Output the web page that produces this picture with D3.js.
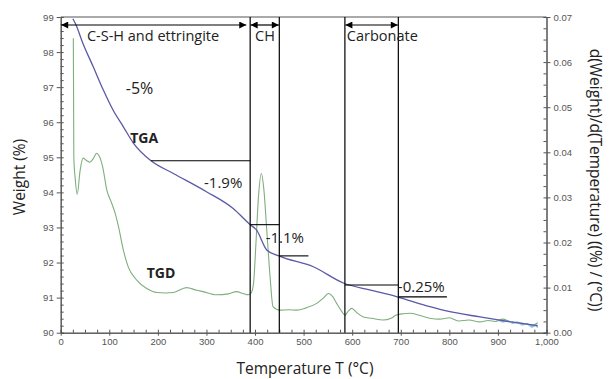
<!DOCTYPE html>
<html>
<head>
<meta charset="utf-8">
<script src="https://cdn.jsdelivr.net/npm/d3@7"></script>
<style>
  body { margin: 0; background: #fff; }
  svg { display: block; }
  .tick text { font-family: "Liberation Sans", Arial, sans-serif; font-size: 9.5px; fill: #555; }
  .lbl { font-family: "Open Sans", sans-serif; fill: #222; }
</style>
</head>
<body>
<div id="graph"></div>
<script>
// TGA curve: temperature (°C) vs weight (%)
const tgaT = [25, 30, 46, 67, 88, 108, 129, 150, 186, 232, 300, 355, 390, 403, 424, 449, 520, 583, 636, 691, 760, 794, 863, 931, 982];
const tgaW = [98.95, 98.82, 98.24, 97.58, 96.91, 96.34, 95.87, 95.4, 94.9, 94.54, 94.02, 93.54, 93.08, 92.93, 92.36, 92.19, 91.88, 91.41, 91.22, 91.03, 90.74, 90.62, 90.45, 90.3, 90.2];

// noisy tail of the TGA trace (light blue)
const tailT = [900, 910, 920, 930, 940, 950, 960, 970, 978, 982];
const tailW = [90.36, 90.31, 90.34, 90.27, 90.3, 90.22, 90.26, 90.16, 90.22, 90.15];

// TGD curve: temperature (°C) vs d(Weight)/d(T)
const tgdT = [26, 27, 30, 34, 40, 46, 53, 60, 67, 74, 80, 86, 95, 105, 112, 119, 129, 139, 156, 177, 198, 215, 232, 259, 280, 293, 321, 345, 362, 375, 386, 392, 397, 402, 407, 413, 418, 424, 431, 437, 451, 470, 486, 505, 527, 540, 551, 560, 568, 578, 585, 592, 599, 610, 623, 640, 664, 680, 691, 705, 719, 740, 760, 780, 800, 820, 840, 863, 880, 895, 910, 925, 940, 955, 970, 982];
const tgdD = [0.0653, 0.039, 0.034, 0.0307, 0.036, 0.0387, 0.0382, 0.0378, 0.0386, 0.0398, 0.039, 0.037, 0.0316, 0.0287, 0.0265, 0.0235, 0.0183, 0.0146, 0.0117, 0.0098, 0.0089, 0.0088, 0.0089, 0.0100, 0.0094, 0.0091, 0.0084, 0.0086, 0.0091, 0.0087, 0.0084, 0.0088, 0.011, 0.020, 0.030, 0.0353, 0.032, 0.023, 0.0124, 0.0058, 0.005, 0.0051, 0.005, 0.0055, 0.0065, 0.0076, 0.0087, 0.008, 0.0065, 0.0048, 0.0039, 0.0048, 0.0054, 0.0044, 0.0035, 0.0032, 0.0028, 0.0032, 0.0039, 0.0042, 0.0043, 0.0038, 0.0032, 0.003, 0.0033, 0.0026, 0.0028, 0.0024, 0.0027, 0.0025, 0.003, 0.0024, 0.0022, 0.002, 0.0016, 0.0022];

// temperature boundaries of the regions
const bounds = [390, 450, 585, 695];
const regions = [
  { name: 'C-S-H and ettringite', from: 0, to: 383, labelT: 54 },
  { name: 'CH', from: 390, to: 450, labelT: 400 },
  { name: 'Carbonate', from: 585, to: 695, labelT: 589 }
];
// horizontal step lines: weight level, T start, T end
const steps = [
  [94.9, 186, 390],
  [93.08, 390, 450],
  [92.19, 450, 510],
  [91.36, 585, 695],
  [91.02, 695, 795]
];
// mass-loss labels
const losses = [
  { text: '-5%', t: 134, w: 96.97, size: 16 },
  { text: '-1.9%', t: 295, w: 94.27, size: 15 },
  { text: '-1.1%', t: 422, w: 92.7, size: 15 },
  { text: '-0.25%', t: 694, w: 91.3, size: 15 }
];

const width = 609, height = 379;
const margin = { top: 17, right: 62.5, bottom: 46.3, left: 60.7 };
const w = width - margin.left - margin.right;
const h = height - margin.top - margin.bottom;

const svg = d3.select('#graph').append('svg')
  .attr('width', width)
  .attr('height', height);

const root = svg.append('g')
  .attr('transform', 'translate(' + margin.left + ',' + margin.top + ')');

const x = d3.scaleLinear().domain([0, 1000]).range([0, w]);
const yL = d3.scaleLinear().domain([90, 99]).range([h, 0]);
const yR = d3.scaleLinear().domain([0, 0.07]).range([h, 0]);

const axisColor = '#555';

function styleAxis(g) {
  g.select('.domain').attr('stroke', axisColor);
  g.selectAll('.tick line').attr('stroke', axisColor);
}

// x axis
root.append('g').attr('transform', 'translate(0,' + h + ')')
  .call(d3.axisBottom(x).tickValues(d3.range(0, 1001, 25)).tickSize(-3).tickFormat(''))
  .call(styleAxis);
root.append('g').attr('transform', 'translate(0,' + h + ')')
  .call(d3.axisBottom(x).tickValues(d3.range(0, 1001, 100)).tickSizeInner(3).tickSizeOuter(0).tickPadding(3))
  .call(styleAxis);

// left axis
root.append('g')
  .call(d3.axisLeft(yL).tickValues(d3.range(90, 99.01, 0.2)).tickSize(-3).tickFormat(''))
  .call(styleAxis);
root.append('g')
  .call(d3.axisLeft(yL).tickValues(d3.range(90, 100, 1)).tickSizeInner(4).tickSizeOuter(0).tickPadding(3))
  .call(styleAxis);

// right axis
root.append('g').attr('transform', 'translate(' + w + ',0)')
  .call(d3.axisRight(yR).tickValues(d3.range(0, 0.0701, 0.0025)).tickSize(-3).tickFormat(''))
  .call(styleAxis);
root.append('g').attr('transform', 'translate(' + w + ',0)')
  .call(d3.axisRight(yR).tickValues(d3.range(0, 0.0701, 0.01)).tickSizeInner(4).tickSizeOuter(0).tickPadding(3).tickFormat(d3.format('.2f')))
  .call(styleAxis);

// top frame
root.append('line')
  .attr('x1', 0).attr('x2', w).attr('y1', 0).attr('y2', 0)
  .attr('stroke', axisColor);

// curves
const lineL = d3.line().x(d => x(d[0])).y(d => yL(d[1]));
const smoothL = d3.line().curve(d3.curveMonotoneX).x(d => x(d[0])).y(d => yL(d[1]));
const lineR = d3.line().curve(d3.curveMonotoneX).x(d => x(d[0])).y(d => yR(d[1]));

root.append('path')
  .datum(d3.zip(tgdT, tgdD))
  .attr('fill', 'none')
  .attr('stroke', '#7fae7f')
  .attr('stroke-width', 1.1)
  .attr('d', lineR);

root.append('path')
  .datum(d3.zip(tailT, tailW))
  .attr('fill', 'none')
  .attr('stroke', '#8fc0dc')
  .attr('stroke-width', 1.6)
  .attr('d', lineL);

root.append('path')
  .datum(d3.zip(tgaT, tgaW))
  .attr('fill', 'none')
  .attr('stroke', '#5a5aa6')
  .attr('stroke-width', 1.3)
  .attr('d', smoothL);

// region boundaries
root.selectAll('.bound')
  .data(bounds)
  .enter().append('line')
    .attr('x1', d => x(d)).attr('x2', d => x(d))
    .attr('y1', 0).attr('y2', h)
    .attr('stroke', '#000')
    .attr('stroke-width', 1.2);

// step lines
root.selectAll('.step')
  .data(steps)
  .enter().append('line')
    .attr('x1', d => x(d[1])).attr('x2', d => x(d[2]))
    .attr('y1', d => yL(d[0])).attr('y2', d => yL(d[0]))
    .attr('stroke', '#000')
    .attr('stroke-width', 1.1);

// arrows
const defs = svg.append('defs');
defs.append('marker')
  .attr('id', 'ah')
  .attr('viewBox', '0 0 10 10')
  .attr('refX', 10).attr('refY', 5)
  .attr('markerWidth', 8).attr('markerHeight', 7)
  .attr('markerUnits', 'userSpaceOnUse')
  .attr('orient', 'auto-start-reverse')
  .append('path').attr('d', 'M0,0L10,5L0,10z').attr('fill', '#000');

const arrowY = 8;
root.selectAll('.arrow')
  .data(regions)
  .enter().append('line')
    .attr('x1', d => x(d.from) + 0.5).attr('x2', d => x(d.to) - 0.5)
    .attr('y1', arrowY).attr('y2', arrowY)
    .attr('stroke', '#000')
    .attr('stroke-width', 1.2)
    .attr('marker-start', 'url(#ah)')
    .attr('marker-end', 'url(#ah)');

root.selectAll('.region')
  .data(regions)
  .enter().append('text')
    .attr('class', 'lbl')
    .attr('x', d => x(d.labelT))
    .attr('y', 24)
    .attr('font-size', 14.5)
    .text(d => d.name);

root.selectAll('.loss')
  .data(losses)
  .enter().append('text')
    .attr('class', 'lbl')
    .attr('x', d => x(d.t))
    .attr('y', d => yL(d.w))
    .attr('dy', '0.35em')
    .attr('font-size', d => d.size)
    .text(d => d.text);

root.append('text').attr('class', 'lbl')
  .attr('x', x(143)).attr('y', yL(95.55)).attr('dy', '0.35em')
  .attr('font-size', 14).attr('font-weight', 'bold')
  .text('TGA');
root.append('text').attr('class', 'lbl')
  .attr('x', x(177)).attr('y', yR(0.0133)).attr('dy', '0.35em')
  .attr('font-size', 14).attr('font-weight', 'bold')
  .text('TGD');

// axis titles
svg.append('text').attr('class', 'lbl')
  .attr('transform', 'translate(25,177) rotate(-90)')
  .attr('text-anchor', 'middle')
  .attr('font-size', 15.5)
  .attr('fill', '#333')
  .text('Weight (%)');

svg.append('text').attr('class', 'lbl')
  .attr('transform', 'translate(590,180) rotate(90)')
  .attr('text-anchor', 'middle')
  .attr('font-size', 15.5)
  .attr('fill', '#333')
  .text('d(Weight)/d(Temperature) ((%) / (°C))');

svg.append('text').attr('class', 'lbl')
  .attr('x', 305).attr('y', 374)
  .attr('text-anchor', 'middle')
  .attr('font-size', 15.5)
  .attr('fill', '#333')
  .text('Temperature T (°C)');
</script>
</body>
</html>
